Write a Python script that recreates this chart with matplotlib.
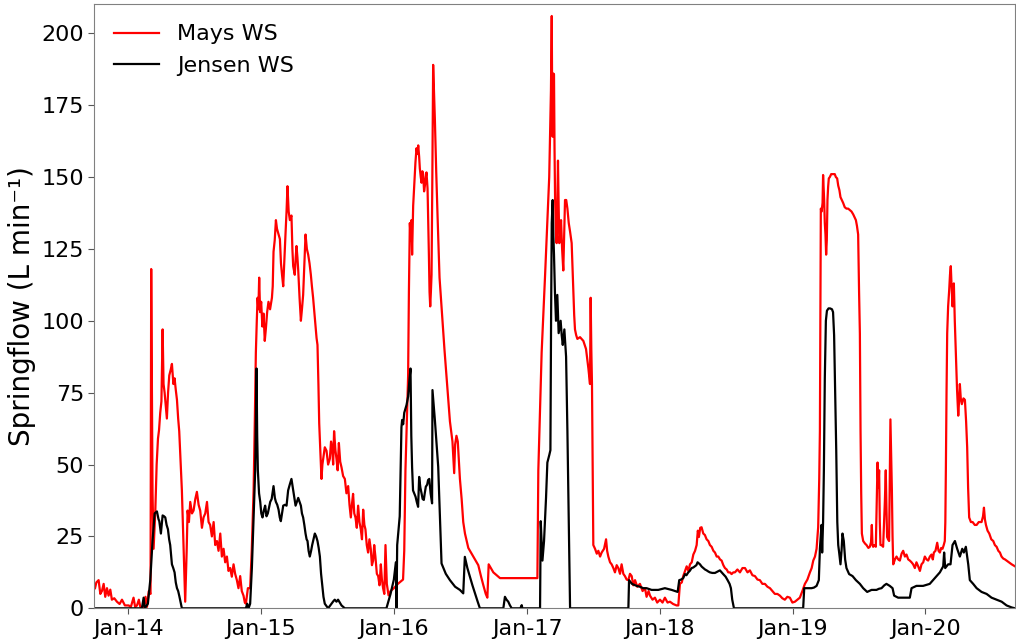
import matplotlib
matplotlib.use("Agg")
import matplotlib.pyplot as plt
import matplotlib.dates as mdates
import pandas as pd

# Springflow records, time given as decimal years
mays_t = [
    2013.750, 2013.760, 2013.777, 2013.790, 2013.802, 2013.815, 2013.827, 2013.840,
    2013.852, 2013.865, 2013.877, 2013.895, 2013.915, 2013.935, 2013.953, 2013.975,
    2014.003, 2014.020, 2014.040, 2014.052, 2014.066, 2014.080, 2014.091, 2014.116,
    2014.130, 2014.141, 2014.155, 2014.168, 2014.173, 2014.183, 2014.191, 2014.204,
    2014.214, 2014.224, 2014.232, 2014.241, 2014.250, 2014.259, 2014.266, 2014.274,
    2014.283, 2014.291, 2014.300, 2014.309, 2014.320, 2014.329, 2014.340, 2014.349,
    2014.358, 2014.367, 2014.376, 2014.384, 2014.395, 2014.404, 2014.417, 2014.429,
    2014.440, 2014.447, 2014.457, 2014.467, 2014.480, 2014.492, 2014.505, 2014.517,
    2014.530, 2014.542, 2014.555, 2014.567, 2014.580, 2014.593, 2014.605, 2014.617,
    2014.630, 2014.643, 2014.655, 2014.668, 2014.680, 2014.693, 2014.705, 2014.718,
    2014.730, 2014.743, 2014.755, 2014.768, 2014.780, 2014.793, 2014.805, 2014.818,
    2014.830, 2014.843, 2014.855, 2014.868, 2014.878, 2014.886, 2014.895, 2014.901,
    2014.918, 2014.930, 2014.944, 2014.953, 2014.961, 2014.968, 2014.974, 2014.980,
    2014.986, 2014.993, 2015.001, 2015.010, 2015.019, 2015.028, 2015.036, 2015.046,
    2015.056, 2015.068, 2015.082, 2015.088, 2015.094, 2015.103, 2015.112, 2015.120,
    2015.132, 2015.142, 2015.150, 2015.158, 2015.167, 2015.176, 2015.184, 2015.192,
    2015.199, 2015.208, 2015.217, 2015.229, 2015.236, 2015.242, 2015.254, 2015.261,
    2015.267, 2015.274, 2015.280, 2015.290, 2015.300, 2015.308, 2015.317, 2015.325,
    2015.335, 2015.345, 2015.355, 2015.365, 2015.375, 2015.383, 2015.392, 2015.401,
    2015.410, 2015.418, 2015.425, 2015.432, 2015.438, 2015.446, 2015.455, 2015.462,
    2015.468, 2015.480, 2015.493, 2015.505, 2015.518, 2015.527, 2015.535, 2015.543,
    2015.550, 2015.560, 2015.568, 2015.577, 2015.586, 2015.596, 2015.606, 2015.618,
    2015.631, 2015.643, 2015.656, 2015.666, 2015.676, 2015.684, 2015.693, 2015.702,
    2015.711, 2015.721, 2015.731, 2015.741, 2015.751, 2015.760, 2015.769, 2015.778,
    2015.786, 2015.796, 2015.806, 2015.816, 2015.826, 2015.835, 2015.844, 2015.852,
    2015.861, 2015.872, 2015.882, 2015.892, 2015.902, 2015.910, 2015.919, 2015.928,
    2015.937, 2015.947, 2015.960, 2015.975, 2016.000, 2016.030, 2016.069, 2016.078,
    2016.087, 2016.097, 2016.107, 2016.113, 2016.120, 2016.127, 2016.132, 2016.137,
    2016.145, 2016.152, 2016.162, 2016.170, 2016.177, 2016.183, 2016.190, 2016.195,
    2016.202, 2016.208, 2016.214, 2016.220, 2016.227, 2016.233, 2016.240, 2016.245,
    2016.253, 2016.258, 2016.263, 2016.268, 2016.273, 2016.278, 2016.283, 2016.289,
    2016.295, 2016.301, 2016.308, 2016.318, 2016.328, 2016.343, 2016.358, 2016.380,
    2016.400, 2016.421, 2016.440, 2016.453, 2016.460, 2016.470, 2016.480, 2016.496,
    2016.509, 2016.521, 2016.534, 2016.559, 2016.584, 2016.609, 2016.634, 2016.655,
    2016.672, 2016.690, 2016.702, 2016.712, 2016.747, 2016.797, 2017.078, 2017.085,
    2017.110, 2017.136, 2017.160, 2017.167, 2017.173, 2017.180, 2017.186, 2017.190,
    2017.193, 2017.198, 2017.203, 2017.207, 2017.211, 2017.218, 2017.223, 2017.228,
    2017.233, 2017.238, 2017.243, 2017.250, 2017.256, 2017.264, 2017.273, 2017.280,
    2017.286, 2017.295, 2017.304, 2017.314, 2017.324, 2017.336, 2017.343, 2017.349,
    2017.355, 2017.361, 2017.370, 2017.379, 2017.399, 2017.424, 2017.444, 2017.462,
    2017.474, 2017.479, 2017.484, 2017.489, 2017.499, 2017.512, 2017.525, 2017.537,
    2017.550, 2017.562, 2017.580, 2017.595, 2017.603, 2017.612, 2017.625, 2017.637,
    2017.650, 2017.662, 2017.675, 2017.687, 2017.700, 2017.712, 2017.725, 2017.737,
    2017.750, 2017.763, 2017.775, 2017.788, 2017.800, 2017.813, 2017.830, 2017.850,
    2017.870, 2017.888, 2017.900, 2017.915, 2017.926, 2017.945, 2017.963, 2017.980,
    2018.001, 2018.020, 2018.038, 2018.058, 2018.076, 2018.100, 2018.126, 2018.139,
    2018.151, 2018.165, 2018.176, 2018.190, 2018.202, 2018.215, 2018.227, 2018.240,
    2018.252, 2018.265, 2018.277, 2018.286, 2018.294, 2018.304, 2018.314, 2018.327,
    2018.339, 2018.352, 2018.365, 2018.377, 2018.390, 2018.403, 2018.415, 2018.428,
    2018.440, 2018.453, 2018.465, 2018.478, 2018.490, 2018.503, 2018.515, 2018.528,
    2018.540, 2018.553, 2018.565, 2018.584, 2018.603, 2018.622, 2018.641, 2018.660,
    2018.678, 2018.697, 2018.716, 2018.735, 2018.753, 2018.772, 2018.791, 2018.810,
    2018.829, 2018.848, 2018.866, 2018.885, 2018.904, 2018.922, 2018.941, 2018.960,
    2018.979, 2018.998, 2019.017, 2019.035, 2019.054, 2019.073, 2019.092, 2019.111,
    2019.130, 2019.143, 2019.155, 2019.168, 2019.180, 2019.192, 2019.200, 2019.205,
    2019.212, 2019.218, 2019.225, 2019.229, 2019.237, 2019.242, 2019.247, 2019.252,
    2019.257, 2019.262, 2019.267, 2019.272, 2019.280, 2019.290, 2019.305, 2019.317,
    2019.325, 2019.335, 2019.343, 2019.352, 2019.360, 2019.370, 2019.380, 2019.392,
    2019.405, 2019.418, 2019.430, 2019.443, 2019.456, 2019.466, 2019.476, 2019.484,
    2019.493, 2019.500, 2019.506, 2019.511, 2019.516, 2019.521, 2019.531, 2019.545,
    2019.556, 2019.570, 2019.581, 2019.590, 2019.596, 2019.601, 2019.606, 2019.616,
    2019.626, 2019.632, 2019.639, 2019.645, 2019.651, 2019.656, 2019.661, 2019.670,
    2019.681, 2019.688, 2019.694, 2019.701, 2019.706, 2019.711, 2019.718, 2019.726,
    2019.731, 2019.736, 2019.741, 2019.747, 2019.752, 2019.757, 2019.770, 2019.782,
    2019.795, 2019.807, 2019.820, 2019.832, 2019.845, 2019.857, 2019.870, 2019.882,
    2019.895, 2019.907, 2019.920, 2019.932, 2019.945, 2019.958, 2019.970, 2019.983,
    2019.995, 2020.008, 2020.020, 2020.033, 2020.045, 2020.055, 2020.063, 2020.075,
    2020.088, 2020.098, 2020.108, 2020.118, 2020.128, 2020.137, 2020.145, 2020.149,
    2020.153, 2020.158, 2020.163, 2020.170, 2020.178, 2020.184, 2020.190, 2020.196,
    2020.203, 2020.208, 2020.213, 2020.220, 2020.228, 2020.237, 2020.246, 2020.252,
    2020.258, 2020.265, 2020.273, 2020.285, 2020.296, 2020.305, 2020.313, 2020.320,
    2020.328, 2020.341, 2020.354, 2020.370, 2020.384, 2020.400, 2020.421, 2020.432,
    2020.439, 2020.446, 2020.454, 2020.466, 2020.479, 2020.494, 2020.509, 2020.521,
    2020.534, 2020.547, 2020.559, 2020.571, 2020.584, 2020.597, 2020.609, 2020.628,
    2020.647, 2020.672,
]
mays_q = [
    7, 9, 9.8, 5, 6, 8.5, 4, 7,
    4.4, 6.5, 3, 3.5, 2.3, 1.5, 3, 1,
    1, 0.5, 3.7, 0.5, 1, 3, 0.5, 0.5,
    4, 0.5, 6, 5, 118, 40, 20.7, 34,
    50, 59, 62, 68, 72, 97, 78, 75,
    70, 66, 75, 81, 83, 85, 78, 80,
    76, 72.5, 66, 61.6, 50, 41, 20.7, 2.3,
    20, 34, 30, 37, 33, 34, 38, 40.5,
    36, 34, 28, 31.6, 33, 37, 30, 29,
    25, 30, 22, 23.4, 20, 26, 18, 20.7,
    16, 18, 13, 14, 11, 15.3, 12, 9.8,
    7, 11.2, 6, 4.4, 2, 1.6, 5, 7,
    7, 20, 41, 65, 89, 100, 108, 104,
    115, 103, 106.6, 98, 102.5, 93, 97, 103,
    106.6, 104, 108, 112, 124, 128, 135, 132,
    130, 128.4, 120, 116, 112, 122, 130, 138,
    146.8, 138, 135, 136.6, 125, 119, 116, 122,
    126, 122, 117.5, 108, 100, 104, 109, 118,
    130, 125, 123, 120, 116, 112, 108, 103,
    98.4, 94, 91.6, 78, 64.3, 55, 45, 50,
    52, 56, 54.8, 50, 52, 58, 56, 50,
    61.6, 55, 52, 48, 57.5, 51, 49, 46,
    45, 40, 42.5, 36, 31.6, 36, 39.8, 33,
    31.6, 28, 35.7, 30, 27.5, 24, 34.3, 29,
    27.5, 22, 19.4, 24, 20.7, 15, 16.6, 22,
    18, 12, 11.2, 8, 15.3, 10, 7, 5,
    22, 8.5, 4.5, 6, 7, 8.5, 10, 20,
    48, 65, 80.7, 110, 134, 128, 135, 123,
    140, 146, 155, 160, 158, 161, 157, 153,
    150, 148, 152, 151, 145, 147, 150, 151.6,
    146, 135, 123, 110, 105, 110, 116, 150,
    189, 180, 170, 152, 136.6, 115, 105, 90,
    78, 65, 58, 47, 57, 60, 58, 45,
    38, 30, 26, 21, 19, 17, 15, 11,
    8, 5, 3.7, 15.3, 12.5, 10.5, 10.5, 48,
    89, 116, 143, 150, 164, 180, 206, 170,
    164, 186, 185.7, 160, 143, 130, 127, 140,
    155.7, 140, 127, 130, 135, 125, 117.5, 130,
    142, 142, 139, 134, 131, 127, 118, 110.7,
    102, 97, 95, 93.7, 94.3, 93, 90.2, 83.4,
    78, 108, 90, 78, 22, 20.7, 19, 20,
    18, 19.4, 20.7, 24, 20, 18, 16, 15.3,
    14, 12.5, 15, 14, 12, 15.3, 12, 11.2,
    10, 9.8, 12, 11.2, 8, 9.8, 7.5, 8.5,
    6, 7, 4, 6, 4.4, 3, 3.7, 2,
    3, 2, 3.7, 2, 2.3, 1.5, 1, 1,
    8.5, 9, 11.2, 13, 14.6, 13, 15.3, 16,
    18.7, 20, 22, 27, 24.8, 28, 28.2, 26,
    25.5, 24, 23.4, 22, 21.4, 20, 19.4, 18,
    18, 17, 16.6, 15, 14, 13.5, 12.5, 12.5,
    11.9, 12.5, 12.5, 13.5, 12.5, 14, 14, 12.5,
    13.2, 11.5, 11.2, 10, 9.8, 8.5, 8.5, 7.5,
    7, 6, 5, 5, 4.4, 3.5, 3, 4,
    3.7, 2, 2.3, 3, 3.7, 6, 8.5, 10,
    12.5, 14, 16.6, 18, 20.7, 28.2, 45, 61.6,
    139, 138, 141, 150.7, 142, 134, 130, 123,
    128, 142, 146.6, 149.5, 150, 151, 151, 151,
    150, 149.5, 147, 145.4, 143, 142, 141, 139.5,
    139, 139, 138.5, 138, 137, 136, 135, 133,
    130, 110, 95.6, 61.6, 40, 26, 23.4, 22.5,
    22, 21, 21.4, 23, 29, 22, 21.4, 22,
    21.4, 35, 50.7, 42, 48, 30, 22, 22,
    21.4, 30, 37, 48, 35, 24.8, 24, 23.4,
    45, 65.7, 55, 41, 25, 15.3, 17, 18,
    17, 16.6, 19, 20, 18, 18.7, 17, 16.6,
    16, 15.3, 14, 16, 14.6, 13, 15.3, 16,
    18, 17, 16.6, 18, 18.7, 17, 19.4, 20,
    22.8, 20, 19.4, 21, 20.7, 22, 23.4, 30,
    48, 75, 95.7, 105, 110.7, 116, 119, 112,
    105, 110, 113, 100, 89, 76, 67, 72,
    78, 73, 71, 73, 72.5, 65, 56, 42,
    31.6, 30, 30, 29, 29, 30, 30, 32,
    35, 31, 29, 27, 26, 24, 23.4, 22,
    21.4, 20, 19.4, 18, 17.3, 17, 16.6, 16,
    15.3, 14.6,
]

jensen_t = [
    2013.746, 2014.103, 2014.116, 2014.125, 2014.148, 2014.166, 2014.183, 2014.199,
    2014.216, 2014.228, 2014.234, 2014.246, 2014.259, 2014.270, 2014.279, 2014.289,
    2014.299, 2014.308, 2014.316, 2014.329, 2014.339, 2014.349, 2014.358, 2014.367,
    2014.376, 2014.384, 2014.404, 2014.886, 2014.896, 2014.906, 2014.918, 2014.931,
    2014.944, 2014.956, 2014.966, 2014.971, 2014.976, 2014.985, 2014.994, 2015.002,
    2015.011, 2015.021, 2015.031, 2015.041, 2015.051, 2015.060, 2015.069, 2015.080,
    2015.094, 2015.104, 2015.112, 2015.122, 2015.132, 2015.141, 2015.149, 2015.158,
    2015.167, 2015.180, 2015.192, 2015.204, 2015.216, 2015.229, 2015.242, 2015.251,
    2015.260, 2015.270, 2015.280, 2015.290, 2015.300, 2015.308, 2015.317, 2015.326,
    2015.335, 2015.343, 2015.350, 2015.358, 2015.367, 2015.377, 2015.385, 2015.395,
    2015.405, 2015.415, 2015.425, 2015.434, 2015.443, 2015.452, 2015.460, 2015.470,
    2015.480, 2015.505, 2015.530, 2015.545, 2015.555, 2015.568, 2015.580, 2015.606,
    2015.631, 2015.944, 2015.975, 2016.000, 2016.015, 2016.020, 2016.025, 2016.044,
    2016.057, 2016.062, 2016.070, 2016.078, 2016.095, 2016.107, 2016.118, 2016.125,
    2016.131, 2016.137, 2016.144, 2016.153, 2016.163, 2016.172, 2016.182, 2016.190,
    2016.199, 2016.208, 2016.216, 2016.225, 2016.232, 2016.240, 2016.250, 2016.257,
    2016.266, 2016.276, 2016.287, 2016.290, 2016.308, 2016.333, 2016.358, 2016.390,
    2016.421, 2016.460, 2016.496, 2016.521, 2016.533, 2016.552, 2016.571, 2016.590,
    2016.609, 2016.628, 2016.646, 2016.822, 2016.834, 2016.846, 2016.859, 2016.872,
    2016.885, 2016.950, 2016.960, 2016.965, 2017.098, 2017.103, 2017.116, 2017.128,
    2017.143, 2017.153, 2017.168, 2017.176, 2017.181, 2017.186, 2017.193, 2017.198,
    2017.203, 2017.210, 2017.218, 2017.228, 2017.238, 2017.246, 2017.253, 2017.261,
    2017.269, 2017.281, 2017.294, 2017.304, 2017.314, 2017.324, 2017.763, 2017.768,
    2017.790, 2017.825, 2017.850, 2017.875, 2017.900, 2017.938, 2017.988, 2018.038,
    2018.089, 2018.134, 2018.146, 2018.160, 2018.176, 2018.189, 2018.200, 2018.214,
    2018.225, 2018.239, 2018.252, 2018.264, 2018.275, 2018.284, 2018.302, 2018.315,
    2018.327, 2018.340, 2018.352, 2018.365, 2018.377, 2018.395, 2018.415, 2018.435,
    2018.452, 2018.465, 2018.477, 2018.495, 2018.510, 2018.525, 2018.535, 2018.545,
    2018.558, 2019.079, 2019.087, 2019.110, 2019.142, 2019.160, 2019.180, 2019.197,
    2019.205, 2019.217, 2019.222, 2019.229, 2019.235, 2019.242, 2019.250, 2019.258,
    2019.270, 2019.282, 2019.296, 2019.304, 2019.312, 2019.320, 2019.328, 2019.336,
    2019.343, 2019.350, 2019.360, 2019.368, 2019.375, 2019.385, 2019.395, 2019.405,
    2019.425, 2019.451, 2019.476, 2019.506, 2019.531, 2019.561, 2019.594, 2019.631,
    2019.650, 2019.669, 2019.690, 2019.706, 2019.731, 2019.752, 2019.764, 2019.794,
    2019.832, 2019.882, 2019.895, 2019.932, 2019.982, 2020.032, 2020.070, 2020.108,
    2020.133, 2020.140, 2020.148, 2020.170, 2020.188, 2020.203, 2020.221, 2020.238,
    2020.258, 2020.276, 2020.288, 2020.303, 2020.321, 2020.333, 2020.358, 2020.384,
    2020.421, 2020.459, 2020.496, 2020.534, 2020.572, 2020.609, 2020.647, 2020.672,
]
jensen_q = [
    0, 0, 3.7, 0, 1.6, 9.8, 23.4, 33,
    33.7, 31, 30.3, 26, 32.3, 32, 31.6, 29,
    27.5, 24, 22, 15.3, 14, 12.5, 9, 7,
    6, 4.4, 0, 0, 1.6, 0, 1.6, 14,
    31.6, 48, 83.4, 60, 48, 40, 37, 33,
    31.6, 34, 35.7, 32, 33, 35, 37, 38,
    42.5, 38.4, 37, 36, 34.3, 31.6, 30.3, 33,
    35.7, 36, 35.7, 41, 43, 45, 41, 38,
    35.7, 37, 38.4, 37, 35.7, 33, 31.6, 29,
    26, 24, 23.4, 20, 18, 20, 22, 24,
    26, 25, 23.4, 21, 18, 12, 8.5, 4,
    1.6, 0, 1.6, 2.5, 3, 2.3, 3, 1,
    0, 0, 5, 10, 16, 0, 22, 32,
    63, 65.5, 64, 68, 70.7, 73.6, 80, 83.4,
    60, 49, 41, 40, 38.8, 37, 35.3, 45.7,
    42, 40, 38, 37.7, 40, 42.3, 43, 44.6,
    45, 40, 36.5, 75.9, 65.5, 49.2, 15.6, 12,
    9.8, 7.5, 6.4, 5.2, 17.9, 14, 11, 8,
    5.2, 2.5, 0, 0, 4, 3, 2.3, 1,
    0, 0, 1.1, 0, 0, 30.3, 16.6, 23.4,
    38.4, 50.7, 53.4, 55, 100, 134, 142, 130,
    123, 110, 100, 109, 95.7, 98, 100, 95,
    91.6, 97, 87.5, 61.6, 30, 0, 0, 9.8,
    8.5, 7.8, 7.5, 7, 7, 6.4, 6.4, 7,
    6.4, 5.7, 9.8, 10, 10.5, 11.9, 11.5, 12.5,
    13, 14, 14.2, 14.6, 15, 16, 15.3, 14.5,
    14, 13.5, 13.2, 12.8, 12.5, 12.3, 12.3, 12.8,
    13.2, 12.5, 11.9, 11, 9.8, 8.5, 7, 3,
    0, 0, 7, 7, 7, 7.2, 7.8, 9.8,
    20.7, 29, 19.4, 30, 48, 80, 100, 103.5,
    104.3, 104.3, 104, 103, 95, 75, 55, 30,
    22, 19.4, 15.3, 20, 26, 23.4, 17, 14,
    11.9, 11.2, 9.8, 8.5, 7, 5.7, 6.4, 6.4,
    6.8, 7, 8, 8.5, 7.8, 7, 4.4, 3.7,
    3.7, 3.7, 7, 7.8, 7.8, 8.5, 10.5, 12.5,
    14.6, 19.4, 14, 15.3, 15.3, 22, 23.4, 20.7,
    18, 20.7, 19.4, 21.4, 15.3, 9.8, 8.5, 7,
    5.7, 5, 3.7, 3, 2.3, 1, 0.3, 0,
]


def to_dates(years):
    # turn decimal years into timestamps
    out = []
    for y in years:
        yr = int(y)
        start = pd.Timestamp(year=yr, month=1, day=1)
        end = pd.Timestamp(year=yr + 1, month=1, day=1)
        out.append(start + (end - start) * (y - yr))
    return out


fig = plt.figure(figsize=(10.16, 6.41), dpi=100)
ax = fig.add_axes([0.093, 0.051, 0.906, 0.942])

ax.plot(to_dates(mays_t), mays_q, color="red", lw=1.6, label="Mays WS")
ax.plot(to_dates(jensen_t), jensen_q, color="black", lw=1.6, label="Jensen WS")

ax.set_xlim(to_dates([2013.746, 2020.672]))
ax.set_ylim(0, 210)
ax.set_yticks(range(0, 201, 25))
ax.xaxis.set_major_locator(mdates.YearLocator())
ax.xaxis.set_major_formatter(mdates.DateFormatter("%b-%y"))

ax.tick_params(labelsize=16, length=4, color="#555555")
ax.set_ylabel("Springflow (L min\u207b\u00b9)", fontsize=20)
for sp in ax.spines.values():
    sp.set_color("#808080")

ax.legend(loc="upper left", fontsize=16, frameon=False,
          bbox_to_anchor=(0.0, 1.0), handlelength=2.0)

fig.savefig("out.png", dpi=100)
